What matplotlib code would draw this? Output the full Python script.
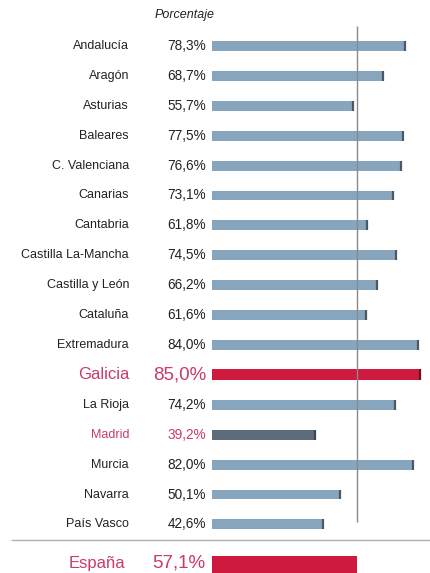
import matplotlib
matplotlib.use("Agg")
import matplotlib.pyplot as plt

regions = ["Andalucía", "Aragón", "Asturias", "Baleares", "C. Valenciana",
           "Canarias", "Cantabria", "Castilla La-Mancha", "Castilla y León",
           "Cataluña", "Extremadura", "Galicia", "La Rioja", "Madrid",
           "Murcia", "Navarra", "País Vasco"]
values = [78.3, 68.7, 55.7, 77.5, 76.6, 73.1, 61.8, 74.5, 66.2, 61.6,
          84.0, 85.0, 74.2, 39.2, 82.0, 50.1, 42.6]
total_label = "España"
total_value = 57.1

BLUE = "#87a5bd"
CAP = "#4d5862"
RED = "#cf1a40"
SLATE = "#5d6c7b"
PINK = "#c93a6e"

plt.rcParams["font.family"] = ["Liberation Sans", "DejaVu Sans"]

fig = plt.figure(figsize=(4.30, 5.73), dpi=100)
ax = fig.add_axes([0, 0, 1, 1])
ax.set_xlim(-98.6, 89.0)
ax.set_ylim(17.625, -1.538)
ax.axis("off")

base = -6.1

def pct(v):
    return f"{v:.1f}".replace(".", ",") + "%"

for i, (name, v) in enumerate(zip(regions, values)):
    if name == "Galicia":
        color, cap, h, tcol, fs, fp = RED, "#6b1020", 0.37, PINK, 12, 13.5
    elif name == "Madrid":
        color, cap, h, tcol, fs, fp = SLATE, "#3d4650", 0.33, PINK, 9, 9.8
    else:
        color, cap, h, tcol, fs, fp = BLUE, CAP, 0.33, "#222222", 9, 9.8
    ax.barh(i, v - base, left=base, height=h, color=color, zorder=2)
    ax.vlines(v - 0.4, i - h / 2, i + h / 2, color=cap, lw=1.6, zorder=3)
    ax.text(-42.3, i, name, ha="right", va="center", fontsize=fs, color=tcol)
    ax.text(-8.7, i, pct(v), ha="right", va="center", fontsize=fp, color=tcol)

# total row
yt = 17.35
ax.barh(yt, total_value - base, left=base, height=0.62, color=RED, zorder=2)
ax.text(-44.0, yt - 0.05, total_label, ha="right", va="center", fontsize=12, color=PINK)
ax.text(-9.0, yt - 0.05, pct(total_value), ha="right", va="center", fontsize=13.5, color=PINK)

# reference line at national value and separator
ax.vlines(total_value, -0.67, 15.92, color="#8a8a8a", lw=1.0, zorder=4)
ax.hlines(16.52, -94.0, 89.0, color="#b0b0b0", lw=1.0)

ax.text(-17.9, -1.02, "Porcentaje", ha="center", va="center", fontsize=9,
        style="italic", color="#222222")

fig.savefig("out.png", dpi=100)
